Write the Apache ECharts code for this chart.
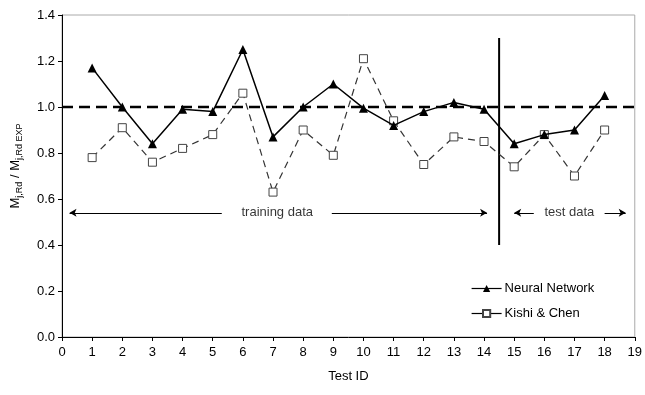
<!DOCTYPE html>
<html>
<head>
<meta charset="utf-8">
<script src="https://cdn.jsdelivr.net/npm/echarts@6/dist/echarts.min.js"></script>
<style>
  html, body { margin: 0; padding: 0; background: #fff; }
  #main { width: 645px; height: 395px; }
</style>
</head>
<body>
<div id="main"></div>
<script>
// test ids and ratios
var testIds = [1, 2, 3, 4, 5, 6, 7, 8, 9, 10, 11, 12, 13, 14, 15, 16, 17, 18];
var neuralNet = [1.17, 1.00, 0.84, 0.99, 0.98, 1.25, 0.87, 1.00, 1.10, 0.995, 0.92, 0.98, 1.02, 0.99, 0.84, 0.88, 0.90, 1.05];
var kishiChen = [0.78, 0.91, 0.76, 0.82, 0.88, 1.06, 0.63, 0.90, 0.79, 1.21, 0.94, 0.75, 0.87, 0.85, 0.74, 0.88, 0.70, 0.90];
var xTicks = { min: 0, max: 19, step: 1 };
var yTicks = { min: 0, max: 1.4, step: 0.2 };
var splitX = 14.5;
var arrowY = 0.54;

var font = 'Liberation Sans, Arial, sans-serif';

function pairs(xs, ys) {
  return xs.map(function (x, i) { return [x, ys[i]]; });
}

var myChart = echarts.init(document.getElementById('main'));
myChart.setOption({
  animation: false,
  textStyle: { fontFamily: font },
  grid: {
    left: 62, right: 8, top: 15, bottom: 58,
    show: true, borderColor: '#aaa', borderWidth: 1
  },
  legend: {
    orient: 'vertical',
    left: 466, top: 277,
    itemWidth: 30, itemHeight: 9, itemGap: 12,
    textStyle: { fontFamily: font, fontSize: 13, color: '#000', padding: [0, 0, 0, -2] },
    lineStyle: { type: 'solid', width: 1.2, color: '#000' },
    data: ['Neural Network', 'Kishi & Chen']
  },
  xAxis: {
    type: 'value',
    min: xTicks.min, max: xTicks.max, interval: xTicks.step,
    name: 'Test ID',
    nameLocation: 'middle', nameGap: 33,
    nameTextStyle: { fontFamily: font, fontSize: 13, color: '#000' },
    axisLine: { onZero: false, lineStyle: { color: '#000', width: 1 } },
    axisTick: { length: 4, lineStyle: { color: '#000' } },
    axisLabel: { fontFamily: font, fontSize: 13, color: '#000', margin: 9 },
    splitLine: { show: false }
  },
  yAxis: {
    type: 'value',
    min: yTicks.min, max: yTicks.max, interval: yTicks.step,
    axisLine: { show: true, lineStyle: { color: '#000', width: 1 } },
    axisTick: { show: true, length: 4, lineStyle: { color: '#000' } },
    axisLabel: {
      fontFamily: font, fontSize: 13, color: '#000', margin: 7,
      formatter: function (v) { return v.toFixed(1); }
    },
    splitLine: { show: false }
  },
  graphic: [{
    type: 'text',
    x: 15, y: 166,
    rotation: Math.PI / 2,
    style: {
      text: '{n|M}{s|j,Rd}{n| / M}{s|j,Rd EXP}',
      align: 'center', verticalAlign: 'middle',
      fontFamily: font,
      fill: '#000',
      rich: {
        n: { fontSize: 13, lineHeight: 18, fontFamily: font, color: '#000' },
        s: { fontSize: 9, lineHeight: 9, verticalAlign: 'bottom', fontFamily: font, color: '#000' }
      }
    }
  }],
  series: [{
    name: 'unity',
    type: 'line',
    data: [[xTicks.min, 1], [xTicks.max, 1]],
    symbol: 'none',
    lineStyle: { color: '#000', width: 2.5, type: [11, 6] },
    silent: true,
    z: 1
  }, {
    name: 'split',
    type: 'line',
    data: [[splitX, 1.3], [splitX, 0.4]],
    symbol: 'none',
    lineStyle: { color: '#000', width: 2 },
    silent: true,
    z: 1,
    markLine: {
      silent: true,
      symbol: ['none', 'arrow'],
      symbolSize: [6, 7],
      label: { show: false },
      lineStyle: { color: '#000', width: 1, type: 'solid' },
      data: [
        [{ coord: [5.3, arrowY] }, { coord: [0.25, arrowY] }],
        [{ coord: [8.95, arrowY] }, { coord: [14.1, arrowY] }],
        [{ coord: [15.65, arrowY] }, { coord: [15.0, arrowY] }],
        [{ coord: [18.0, arrowY] }, { coord: [18.7, arrowY] }]
      ]
    }
  }, {
    name: 'notes',
    type: 'scatter',
    symbolSize: 0,
    silent: true,
    data: [
      { value: [7.14, arrowY], label: { formatter: 'training data' } },
      { value: [16.83, arrowY], label: { formatter: 'test data' } }
    ],
    label: {
      show: true, position: 'inside',
      fontFamily: font, fontSize: 13, color: '#000'
    }
  }, {
    name: 'Kishi & Chen',
    type: 'line',
    data: pairs(testIds, kishiChen),
    symbol: 'rect',
    symbolSize: 8,
    showAllSymbol: true,
    itemStyle: { color: '#fff', borderColor: '#444', borderWidth: 1 },
    lineStyle: { color: '#333', width: 1.2, type: [7, 5] },
    z: 3
  }, {
    name: 'Neural Network',
    type: 'line',
    data: pairs(testIds, neuralNet),
    symbol: 'triangle',
    symbolSize: 9,
    showAllSymbol: true,
    itemStyle: { color: '#000' },
    lineStyle: { color: '#000', width: 1.5 },
    z: 4
  }]
});
</script>
</body>
</html>
